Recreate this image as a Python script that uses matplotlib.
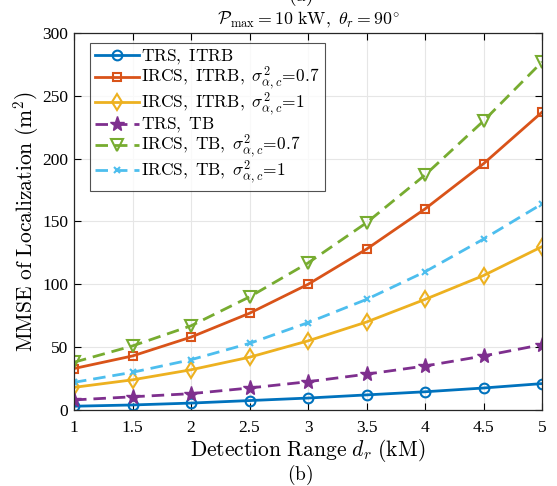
import matplotlib
matplotlib.use("Agg")
import matplotlib.pyplot as plt

# Data
dr = [1, 1.5, 2, 2.5, 3, 3.5, 4, 4.5, 5]
trs_itrb = [3, 4, 5.5, 7.5, 9.5, 12, 14.5, 17.5, 21]
ircs_itrb_07 = [33, 43, 58, 77, 100, 128, 160, 196, 237]
ircs_itrb_1 = [18, 24, 32, 42, 55, 70, 88, 107, 130]
trs_tb = [8, 10.5, 13, 17.5, 22.5, 28.5, 35, 43, 52]
ircs_tb_07 = [38, 51, 67, 90, 117, 149, 187, 230, 277]
ircs_tb_1 = [22, 30, 40, 53, 69.5, 88, 110, 136, 164]

plt.rcParams['font.family'] = ['Liberation Serif', 'DejaVu Serif']
plt.rcParams['mathtext.fontset'] = 'cm'

fig = plt.figure(figsize=(5.57, 4.86), dpi=100)
ax = fig.add_axes([0.1329, 0.1564, 0.8402, 0.7757])

c_blue = (0, 0.447, 0.741)
c_red = (0.85, 0.325, 0.098)
c_yel = (0.929, 0.694, 0.125)
c_pur = (0.494, 0.184, 0.556)
c_grn = (0.466, 0.674, 0.188)
c_lbl = (0.301, 0.745, 0.933)

lw = 2.0
dash = (4.5, 2.5)
ax.plot(dr, trs_itrb, '-', color=c_blue, lw=lw, marker='o', ms=7, mfc='none', mew=1.5,
        label=r'$\mathrm{TRS,\ ITRB}$')
ax.plot(dr, ircs_itrb_07, '-', color=c_red, lw=lw, marker='s', ms=6, mfc='none', mew=1.5,
        label=r'$\mathrm{IRCS,\ ITRB,}\ \sigma^2_{\alpha,c}\!=\!0.7$')
ax.plot(dr, ircs_itrb_1, '-', color=c_yel, lw=lw, marker='d', ms=8, mfc='none', mew=1.5,
        label=r'$\mathrm{IRCS,\ ITRB,}\ \sigma^2_{\alpha,c}\!=\!1$')
ax.plot(dr, trs_tb, '--', dashes=dash, color=c_pur, lw=lw, marker='*', ms=11, mfc=c_pur, mew=1,
        label=r'$\mathrm{TRS,\ TB}$')
ax.plot(dr, ircs_tb_07, '--', dashes=dash, color=c_grn, lw=lw, marker='v', ms=9, mfc='none', mew=1.5,
        label=r'$\mathrm{IRCS,\ TB,}\ \sigma^2_{\alpha,c}\!=\!0.7$')
ax.plot(dr, ircs_tb_1, '--', dashes=dash, color=c_lbl, lw=lw, marker='x', ms=5, mew=1.5,
        label=r'$\mathrm{IRCS,\ TB,}\ \sigma^2_{\alpha,c}\!=\!1$')

ax.set_xlim(1, 5)
ax.set_ylim(0, 300)
ax.set_xticks([1, 1.5, 2, 2.5, 3, 3.5, 4, 4.5, 5])
ax.set_xticklabels(['1', '1.5', '2', '2.5', '3', '3.5', '4', '4.5', '5'])
ax.set_yticks(range(0, 301, 50))
ax.tick_params(direction='in', labelsize=12.5, top=True, right=True, length=5, width=0.8, pad=4)
ax.tick_params(axis='x', pad=7)
ax.grid(True, color='#e6e6e6', lw=0.8)
ax.set_axisbelow(True)
for s in ax.spines.values():
    s.set_linewidth(0.9)
    s.set_color('#262626')

ax.set_xlabel(r'$\mathrm{Detection\ Range}\ d_r\ \mathrm{(kM)}$', fontsize=15.5, labelpad=1)
ax.set_ylabel(r'$\mathrm{MMSE\ of\ Localization\ (m^2)}$', fontsize=15.5, labelpad=1)
ax.set_title(r'$\mathcal{P}_{\max} = 10\ \mathrm{kW},\ \theta_r = 90^{\circ}$', fontsize=12.8, pad=6)

leg = ax.legend(loc='upper left', bbox_to_anchor=(0.034, 0.974), fontsize=12.5, frameon=True,
                fancybox=False, edgecolor='#262626', handlelength=2.5, handletextpad=0.15,
                borderpad=0.3, labelspacing=-0.1, borderaxespad=0)
leg.get_frame().set_linewidth(0.8)

fig.text(0.539, 1.0 + 4 / 486, r'$\mathrm{(a)}$', ha='center', va='center', fontsize=14)
fig.text(0.539, 0.022, r'$\mathrm{(b)}$', ha='center', va='center', fontsize=14)

fig.savefig('out.png', dpi=100)
